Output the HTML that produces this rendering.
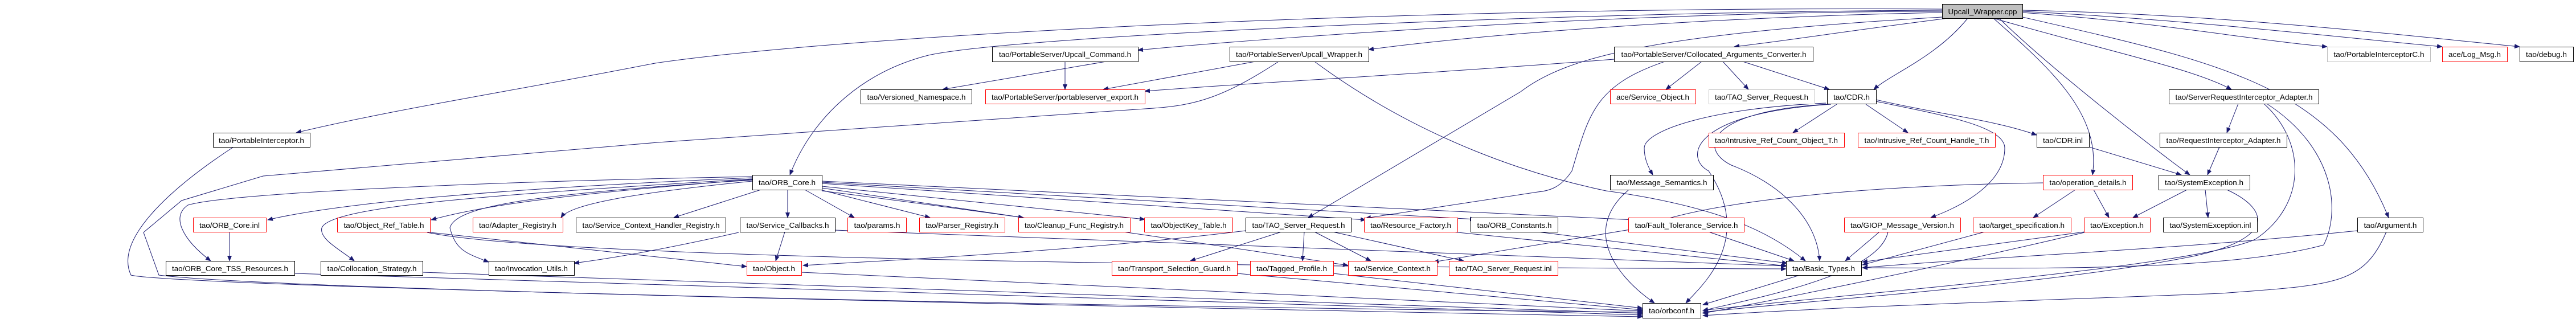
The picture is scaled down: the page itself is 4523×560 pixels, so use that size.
<!DOCTYPE html>
<html><head><meta charset="utf-8"><style>
html,body{margin:0;padding:0;background:#fff;}
svg{display:block;}
text{font-family:"Liberation Sans",sans-serif;font-size:13px;fill:#000;}
.e{fill:none;stroke:#191970;stroke-width:1;}
</style></head><body>
<svg width="4523" height="560" viewBox="0 0 4523 560" xmlns="http://www.w3.org/2000/svg">
<defs><marker id="a" markerWidth="10" markerHeight="8" refX="9" refY="4" orient="auto" markerUnits="userSpaceOnUse"><path d="M0,0 L10,4 L0,8 z" fill="#191970"/></marker></defs>
<g class="e" marker-end="url(#a)">
<path d="M3551,22 C3800,40 3950,70 4086,82"/>
<path d="M3551,20 C3850,35 4100,65 4288,82"/>
<path d="M3551,18 C3900,25 4200,60 4424,82"/>
<path d="M3500,32 C3700,90 3850,120 3918,157"/>
<path d="M3500,32 C3600,120 3690,200 3674,307"/>
<path d="M3510,32 C3600,120 3780,260 3845,307"/>
<path d="M3551,30 C3900,110 4100,150 4194,382"/>
<path d="M3455,32 C3400,100 3320,130 3290,157"/>
<path d="M3420,32 C3200,60 3150,70 3045,82"/>
<path d="M3410,30 C2900,60 2750,100 2670,161 L2297,382"/>
<path d="M3410,22 C3000,30 2600,60 2403,87"/>
<path d="M3410,20 C2900,20 2300,60 1998,88"/>
<path d="M3410,18 C2800,20 1800,60 1630,97 C1500,130 1420,220 1387,307"/>
<path d="M3410,16 C2500,10 1500,60 1150,111 C900,160 700,190 520,233"/>
<path d="M2204,108 L1937,157"/>
<path d="M2834,104 C2500,130 2200,145 2010,160"/>
<path d="M2245,108 C2150,170 2100,185 2025,190 L1155,250 L462,309 L319,352 L252,408 L279,483 C500,510 2000,540 2884,548"/>
<path d="M2308,108 C2500,250 2700,310 2820,335 C3000,360 3100,400 3170,458"/>
<path d="M1942,108 L1655,157"/>
<path d="M1870,108 L1870,157"/>
<path d="M2988,108 L2925,157"/>
<path d="M3025,108 L3070,157"/>
<path d="M3060,108 L3212,157"/>
<path d="M2923,108 C2800,150 2790,200 2760,300 C2740,330 2720,335 2700,337 L2398,383"/>
<path d="M3225,183 L3148,233"/>
<path d="M3276,183 L3350,233"/>
<path d="M3294,175 C3400,200 3500,210 3576,237"/>
<path d="M3206,181 C3000,190 2887,230 2887,260 C2887,280 2895,295 2902,307"/>
<path d="M3208,183 C3000,195 2980,260 3040,290 C3120,320 3190,380 3195,458"/>
<path d="M3215,183 C2960,200 2960,280 3000,300 C3080,420 2990,500 2960,532"/>
<path d="M3294,178 C3400,200 3520,220 3520,260 C3520,320 3450,360 3390,382"/>
<path d="M3668,258 L3830,307"/>
<path d="M3930,182 L3910,233"/>
<path d="M3975,182 C4050,250 4050,360 3960,420 C3850,470 3200,520 2990,545"/>
<path d="M3980,182 C4100,260 4110,370 4080,430 C3900,480 3500,470 3270,470"/>
<path d="M3897,258 L3876,307"/>
<path d="M3644,333 L3570,382"/>
<path d="M3676,333 L3703,382"/>
<path d="M3587,321 C3300,325 3000,350 2880,400 L2517,460"/>
<path d="M3840,333 L3745,382"/>
<path d="M3872,333 L3877,382"/>
<path d="M3910,333 C3990,370 3990,420 3850,450 C3600,500 3200,525 2990,548"/>
<path d="M3660,407 L3270,460"/>
<path d="M3660,408 C3400,470 3100,530 2990,550"/>
<path d="M3485,407 L3270,465"/>
<path d="M3300,407 L3240,458"/>
<path d="M3315,407 C3300,480 3100,520 2990,545"/>
<path d="M4139,405 C3800,440 3500,450 3270,470"/>
<path d="M4190,407 C4150,500 4100,500 3900,515 C3500,530 3200,540 2990,554"/>
<path d="M3000,407 L3150,458"/>
<path d="M2700,407 L3138,462"/>
<path d="M2550,407 L3138,467"/>
<path d="M2860,333 C2780,400 2830,480 2905,532"/>
<path d="M3160,483 L2990,535"/>
<path d="M2187,405 C1900,440 1600,455 1410,466"/>
<path d="M2250,407 L2090,458"/>
<path d="M2290,407 L2287,458"/>
<path d="M2308,407 L2407,458"/>
<path d="M2340,407 L2570,458"/>
<path d="M1378,407 L1362,458"/>
<path d="M1297,408 C1200,430 1100,450 1008,462"/>
<path d="M1466,404 L3136,467"/>
<path d="M755,408 L1311,468"/>
<path d="M750,408 C1000,460 2500,470 3136,472"/>
<path d="M403,407 L403,458"/>
<path d="M517,480 L2884,553"/>
<path d="M742,478 L2884,550"/>
<path d="M1407,478 L2884,546"/>
<path d="M2172,480 L2884,544"/>
<path d="M2341,480 L2884,541"/>
<path d="M1321,312 C900,330 600,355 470,386"/>
<path d="M1321,310 C800,320 400,340 330,360 C300,380 320,420 370,458"/>
<path d="M1321,315 C1000,340 850,360 757,386"/>
<path d="M1321,318 C1100,340 1000,360 985,382"/>
<path d="M1336,333 L1183,382"/>
<path d="M1321,314 C900,340 580,360 565,400 C560,420 600,440 622,458"/>
<path d="M1321,316 C950,340 800,360 790,400 C800,440 820,445 858,460"/>
<path d="M1383,333 L1383,382"/>
<path d="M1413,333 L1500,382"/>
<path d="M1440,333 L1633,382"/>
<path d="M1443,330 L1797,382"/>
<path d="M1443,327 L2010,385"/>
<path d="M1443,322 L2398,386"/>
<path d="M1443,320 L2590,385"/>
<path d="M1443,318 L2870,386"/>
<path d="M1443,335 C1800,380 2200,440 2367,466"/>
<path d="M410,258 C300,330 200,420 230,483 C300,500 1500,530 2884,556"/>
</g>
<g stroke-width="1" font-size="13">
<g fill="#fff" stroke="#000">
<rect x="3410.5" y="7.5" width="141" height="25" fill="#bfbfbf"/>
<rect x="374.5" y="233.5" width="170" height="25"/>
<rect x="1742.5" y="82.5" width="256" height="26"/>
<rect x="2159.5" y="82.5" width="244" height="26"/>
<rect x="2834.5" y="82.5" width="349" height="26"/>
<rect x="4086.5" y="82.5" width="181" height="26" stroke="#bfbfbf"/>
<rect x="4288.5" y="82.5" width="114" height="26" stroke="#f00"/>
<rect x="4424.5" y="82.5" width="94" height="26"/>
<rect x="1511.5" y="157.5" width="195" height="25"/>
<rect x="1730.5" y="157.5" width="280" height="25" stroke="#f00"/>
<rect x="2827.5" y="157.5" width="150" height="25" stroke="#f00"/>
<rect x="3000.5" y="157.5" width="186" height="25" stroke="#bfbfbf"/>
<rect x="3208.5" y="157.5" width="86" height="25"/>
<rect x="3808.5" y="157.5" width="263" height="25"/>
<rect x="3000.5" y="233.5" width="238" height="25" stroke="#f00"/>
<rect x="3262.5" y="233.5" width="241" height="25" stroke="#f00"/>
<rect x="3576.5" y="233.5" width="92" height="25"/>
<rect x="3792.5" y="233.5" width="223" height="25"/>
<rect x="1321.5" y="307.5" width="122" height="26"/>
<rect x="2827.5" y="307.5" width="181" height="26"/>
<rect x="3587.5" y="307.5" width="157" height="26" stroke="#f00"/>
<rect x="3790.5" y="307.5" width="160" height="26"/>
<rect x="339.5" y="382.5" width="128" height="25" stroke="#f00"/>
<rect x="592.5" y="382.5" width="163" height="25" stroke="#f00"/>
<rect x="830.5" y="382.5" width="158" height="25" stroke="#f00"/>
<rect x="1011.5" y="382.5" width="263" height="25"/>
<rect x="1299.5" y="382.5" width="167" height="25"/>
<rect x="1488.5" y="382.5" width="103" height="25" stroke="#f00"/>
<rect x="1614.5" y="382.5" width="150" height="25" stroke="#f00"/>
<rect x="1788.5" y="382.5" width="196" height="25" stroke="#f00"/>
<rect x="2009.5" y="382.5" width="155" height="25" stroke="#f00"/>
<rect x="2187.5" y="382.5" width="185" height="25"/>
<rect x="2395.5" y="382.5" width="164" height="25" stroke="#f00"/>
<rect x="2582.5" y="382.5" width="153" height="25"/>
<rect x="2859.5" y="382.5" width="203" height="25" stroke="#f00"/>
<rect x="3238.5" y="382.5" width="204" height="25" stroke="#f00"/>
<rect x="3464.5" y="382.5" width="172" height="25" stroke="#f00"/>
<rect x="3659.5" y="382.5" width="116" height="25" stroke="#f00"/>
<rect x="3798.5" y="382.5" width="165" height="25"/>
<rect x="4139.5" y="382.5" width="115" height="25"/>
<rect x="291.5" y="458.5" width="226" height="25"/>
<rect x="563.5" y="458.5" width="179" height="25"/>
<rect x="858.5" y="458.5" width="150" height="25"/>
<rect x="1311.5" y="458.5" width="96" height="25" stroke="#f00"/>
<rect x="1952.5" y="458.5" width="220" height="25" stroke="#f00"/>
<rect x="2195.5" y="458.5" width="146" height="25" stroke="#f00"/>
<rect x="2367.5" y="458.5" width="156" height="25" stroke="#f00"/>
<rect x="2544.5" y="458.5" width="191" height="25" stroke="#f00"/>
<rect x="3136.5" y="458.5" width="132" height="25"/>
<rect x="2884.5" y="532.5" width="102" height="26"/>
</g>
<g text-anchor="middle" lengthAdjust="spacingAndGlyphs">
<text x="3481" y="25" textLength="121" lengthAdjust="spacingAndGlyphs">Upcall_Wrapper.cpp</text>
<text x="459" y="251" textLength="150" lengthAdjust="spacingAndGlyphs">tao/PortableInterceptor.h</text>
<text x="1870" y="100" textLength="232" lengthAdjust="spacingAndGlyphs">tao/PortableServer/Upcall_Command.h</text>
<text x="2281" y="100" textLength="222" lengthAdjust="spacingAndGlyphs">tao/PortableServer/Upcall_Wrapper.h</text>
<text x="3009" y="100" textLength="325" lengthAdjust="spacingAndGlyphs">tao/PortableServer/Collocated_Arguments_Converter.h</text>
<text x="4177" y="100" textLength="159" lengthAdjust="spacingAndGlyphs">tao/PortableInterceptorC.h</text>
<text x="4345" y="100" textLength="92" lengthAdjust="spacingAndGlyphs">ace/Log_Msg.h</text>
<text x="4471" y="100" textLength="72" lengthAdjust="spacingAndGlyphs">tao/debug.h</text>
<text x="1609" y="175" textLength="173" lengthAdjust="spacingAndGlyphs">tao/Versioned_Namespace.h</text>
<text x="1870" y="175" textLength="258" lengthAdjust="spacingAndGlyphs">tao/PortableServer/portableserver_export.h</text>
<text x="2902" y="175" textLength="128" lengthAdjust="spacingAndGlyphs">ace/Service_Object.h</text>
<text x="3093" y="175" textLength="164" lengthAdjust="spacingAndGlyphs">tao/TAO_Server_Request.h</text>
<text x="3251" y="175" textLength="64" lengthAdjust="spacingAndGlyphs">tao/CDR.h</text>
<text x="3940" y="175" textLength="241" lengthAdjust="spacingAndGlyphs">tao/ServerRequestInterceptor_Adapter.h</text>
<text x="3119" y="251" textLength="216" lengthAdjust="spacingAndGlyphs">tao/Intrusive_Ref_Count_Object_T.h</text>
<text x="3383" y="251" textLength="219" lengthAdjust="spacingAndGlyphs">tao/Intrusive_Ref_Count_Handle_T.h</text>
<text x="3622" y="251" textLength="70" lengthAdjust="spacingAndGlyphs">tao/CDR.inl</text>
<text x="3904" y="251" textLength="201" lengthAdjust="spacingAndGlyphs">tao/RequestInterceptor_Adapter.h</text>
<text x="1382" y="325" textLength="100" lengthAdjust="spacingAndGlyphs">tao/ORB_Core.h</text>
<text x="2918" y="325" textLength="159" lengthAdjust="spacingAndGlyphs">tao/Message_Semantics.h</text>
<text x="3666" y="325" textLength="135" lengthAdjust="spacingAndGlyphs">tao/operation_details.h</text>
<text x="3870" y="325" textLength="138" lengthAdjust="spacingAndGlyphs">tao/SystemException.h</text>
<text x="403" y="400" textLength="106" lengthAdjust="spacingAndGlyphs">tao/ORB_Core.inl</text>
<text x="674" y="400" textLength="141" lengthAdjust="spacingAndGlyphs">tao/Object_Ref_Table.h</text>
<text x="909" y="400" textLength="136" lengthAdjust="spacingAndGlyphs">tao/Adapter_Registry.h</text>
<text x="1143" y="400" textLength="241" lengthAdjust="spacingAndGlyphs">tao/Service_Context_Handler_Registry.h</text>
<text x="1383" y="400" textLength="145" lengthAdjust="spacingAndGlyphs">tao/Service_Callbacks.h</text>
<text x="1540" y="400" textLength="81" lengthAdjust="spacingAndGlyphs">tao/params.h</text>
<text x="1689" y="400" textLength="128" lengthAdjust="spacingAndGlyphs">tao/Parser_Registry.h</text>
<text x="1886" y="400" textLength="174" lengthAdjust="spacingAndGlyphs">tao/Cleanup_Func_Registry.h</text>
<text x="2087" y="400" textLength="133" lengthAdjust="spacingAndGlyphs">tao/ObjectKey_Table.h</text>
<text x="2280" y="400" textLength="163" lengthAdjust="spacingAndGlyphs">tao/TAO_Server_Request.h</text>
<text x="2477" y="400" textLength="142" lengthAdjust="spacingAndGlyphs">tao/Resource_Factory.h</text>
<text x="2659" y="400" textLength="131" lengthAdjust="spacingAndGlyphs">tao/ORB_Constants.h</text>
<text x="2961" y="400" textLength="181" lengthAdjust="spacingAndGlyphs">tao/Fault_Tolerance_Service.h</text>
<text x="3340" y="400" textLength="182" lengthAdjust="spacingAndGlyphs">tao/GIOP_Message_Version.h</text>
<text x="3550" y="400" textLength="150" lengthAdjust="spacingAndGlyphs">tao/target_specification.h</text>
<text x="3717" y="400" textLength="94" lengthAdjust="spacingAndGlyphs">tao/Exception.h</text>
<text x="3881" y="400" textLength="143" lengthAdjust="spacingAndGlyphs">tao/SystemException.inl</text>
<text x="4197" y="400" textLength="93" lengthAdjust="spacingAndGlyphs">tao/Argument.h</text>
<text x="404" y="476" textLength="204" lengthAdjust="spacingAndGlyphs">tao/ORB_Core_TSS_Resources.h</text>
<text x="653" y="476" textLength="157" lengthAdjust="spacingAndGlyphs">tao/Collocation_Strategy.h</text>
<text x="933" y="476" textLength="128" lengthAdjust="spacingAndGlyphs">tao/Invocation_Utils.h</text>
<text x="1359" y="476" textLength="74" lengthAdjust="spacingAndGlyphs">tao/Object.h</text>
<text x="2062" y="476" textLength="198" lengthAdjust="spacingAndGlyphs">tao/Transport_Selection_Guard.h</text>
<text x="2268" y="476" textLength="124" lengthAdjust="spacingAndGlyphs">tao/Tagged_Profile.h</text>
<text x="2445" y="476" textLength="134" lengthAdjust="spacingAndGlyphs">tao/Service_Context.h</text>
<text x="2640" y="476" textLength="169" lengthAdjust="spacingAndGlyphs">tao/TAO_Server_Request.inl</text>
<text x="3202" y="476" textLength="110" lengthAdjust="spacingAndGlyphs">tao/Basic_Types.h</text>
<text x="2935" y="550" textLength="80" lengthAdjust="spacingAndGlyphs">tao/orbconf.h</text>
</g>
</g>
</svg>
</body></html>
